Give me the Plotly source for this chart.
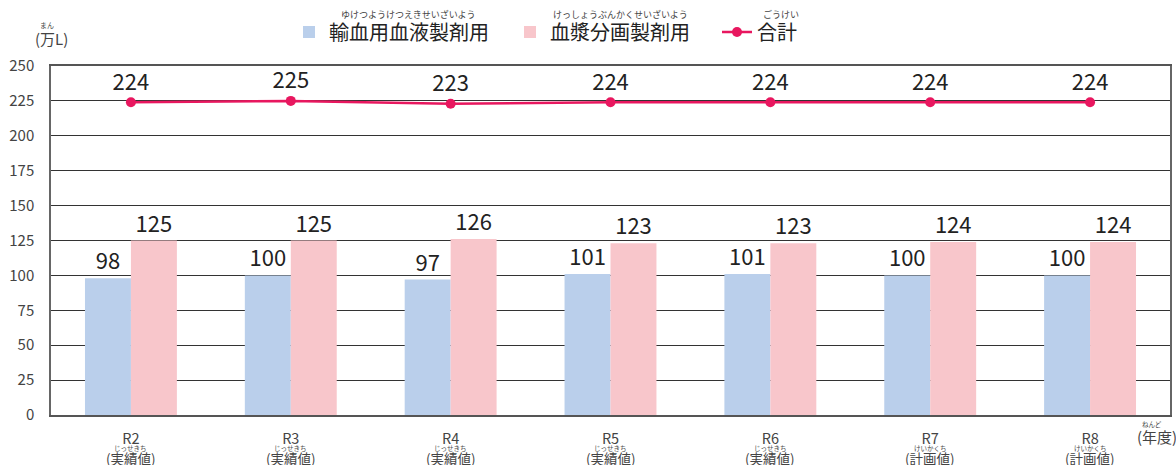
import plotly.graph_objects as go

categories = ["R2", "R3", "R4", "R5", "R6", "R7", "R8"]
kinds = ["(実績値)", "(実績値)", "(実績値)", "(実績値)", "(実績値)", "(計画値)", "(計画値)"]
kind_ruby = ["じっせきち", "じっせきち", "じっせきち", "じっせきち", "じっせきち", "けいかくち", "けいかくち"]
blood = [98, 100, 97, 101, 101, 100, 100]
plasma = [125, 125, 126, 123, 123, 124, 124]
total = [224, 225, 223, 224, 224, 224, 224]
yticks = [0, 25, 50, 75, 100, 125, 150, 175, 200, 225, 250]

FONT = "Noto Sans CJK JP"
BLUE = "#BACFEB"
PINK = "#F8C6CB"
LINE = "#E8175F"
TXT = "#222222"
PW = 1119  # plot width in px
PH = 349   # plot height in px

fig = go.Figure()
fig.add_trace(go.Bar(
    x=categories, y=blood, name="輸血用血液製剤用", marker=dict(color=BLUE, line=dict(width=0)),
    text=[str(v) for v in blood], textposition="outside", legend="legend",
    textfont=dict(size=22, color=TXT, family=FONT), cliponaxis=False,
))
fig.add_trace(go.Bar(
    x=categories, y=plasma, name="血漿分画製剤用", marker=dict(color=PINK, line=dict(width=0)),
    text=[str(v) for v in plasma], textposition="outside", legend="legend2",
    textfont=dict(size=22, color=TXT, family=FONT), cliponaxis=False,
))
fig.add_trace(go.Scatter(
    x=categories, y=total, name="合計", mode="lines+markers+text", legend="legend3",
    line=dict(color=LINE, width=2.5), marker=dict(color=LINE, size=10),
    text=[str(v) for v in total], textposition="top center",
    textfont=dict(size=22, color=TXT, family=FONT), cliponaxis=False,
))

annotations = []
for c, k, r in zip(categories, kinds, kind_ruby):
    annotations.append(dict(x=c, xref="x", y=0, yref="paper", yshift=-43, text=k, showarrow=False,
                            font=dict(size=13.5, color="#444", family=FONT), yanchor="middle"))
    annotations.append(dict(x=c, xref="x", y=0, yref="paper", yshift=-33, text=r, showarrow=False,
                            font=dict(size=6.5, color="#444", family=FONT), yanchor="middle"))

annotations += [
    dict(x=0, xref="paper", xshift=0, y=1, yref="paper", yshift=28, text="(万L)", showarrow=False,
         font=dict(size=15, color="#444", family=FONT), xanchor="center", yanchor="middle"),
    dict(x=0, xref="paper", xshift=-4, y=1, yref="paper", yshift=41, text="まん", showarrow=False,
         font=dict(size=7, color="#444", family=FONT), xanchor="center", yanchor="middle"),
    dict(x=1, xref="paper", xshift=-13, y=0, yref="paper", yshift=-21, text="(年度)", showarrow=False,
         font=dict(size=15, color="#444", family=FONT), xanchor="center", yanchor="middle"),
    dict(x=1, xref="paper", xshift=-18, y=0, yref="paper", yshift=-9, text="ねんど", showarrow=False,
         font=dict(size=6.5, color="#444", family=FONT), xanchor="center", yanchor="middle"),
]
for px, txt in [(409, "ゆけつようけつえきせいざいよう"), (620, "けっしょうぶんかくせいざいよう"), (781, "ごうけい")]:
    annotations.append(dict(x=(px - 51) / PW, xref="paper", y=1, yref="paper", yshift=52, text=txt,
                            showarrow=False, font=dict(size=9, color="#444", family=FONT),
                            xanchor="center", yanchor="middle"))


def legend_at(px):
    return dict(orientation="h", x=(px - 51) / PW, xanchor="left", y=1 + (66 - 32) / PH, yanchor="middle",
                font=dict(size=20, color=TXT, family=FONT), bgcolor="rgba(0,0,0,0)")


fig.update_layout(
    width=1176, height=465,
    margin=dict(l=51, r=6, t=66, b=50, autoexpand=False),
    paper_bgcolor="white", plot_bgcolor="white",
    font=dict(family=FONT, color="#444"),
    barmode="group", bargap=0.425, bargroupgap=0,
    showlegend=True,
    legend=legend_at(289),
    legend2=legend_at(510),
    legend3=legend_at(717),
    annotations=annotations,
)
fig.update_xaxes(
    tickmode="array", tickvals=categories, ticktext=categories,
    tickfont=dict(size=14.5, color="#444", family=FONT),
    showline=True, mirror=True, linecolor="#555", linewidth=1.5,
    showgrid=False, ticks="", range=[-0.5, 6.5], ticklabelstandoff=10,
)
fig.update_yaxes(
    range=[0, 250], tickvals=yticks,
    tickfont=dict(size=15, color="#444", family=FONT),
    showgrid=True, gridcolor="#333", gridwidth=1,
    showline=True, mirror=True, linecolor="#666", linewidth=1.5,
    zeroline=False, ticks="", ticklabelstandoff=12,
)

fig.write_html("out.html", config={"displayModeBar": False},
               post_script="document.body.style.margin='0';document.body.style.overflow='hidden';")
